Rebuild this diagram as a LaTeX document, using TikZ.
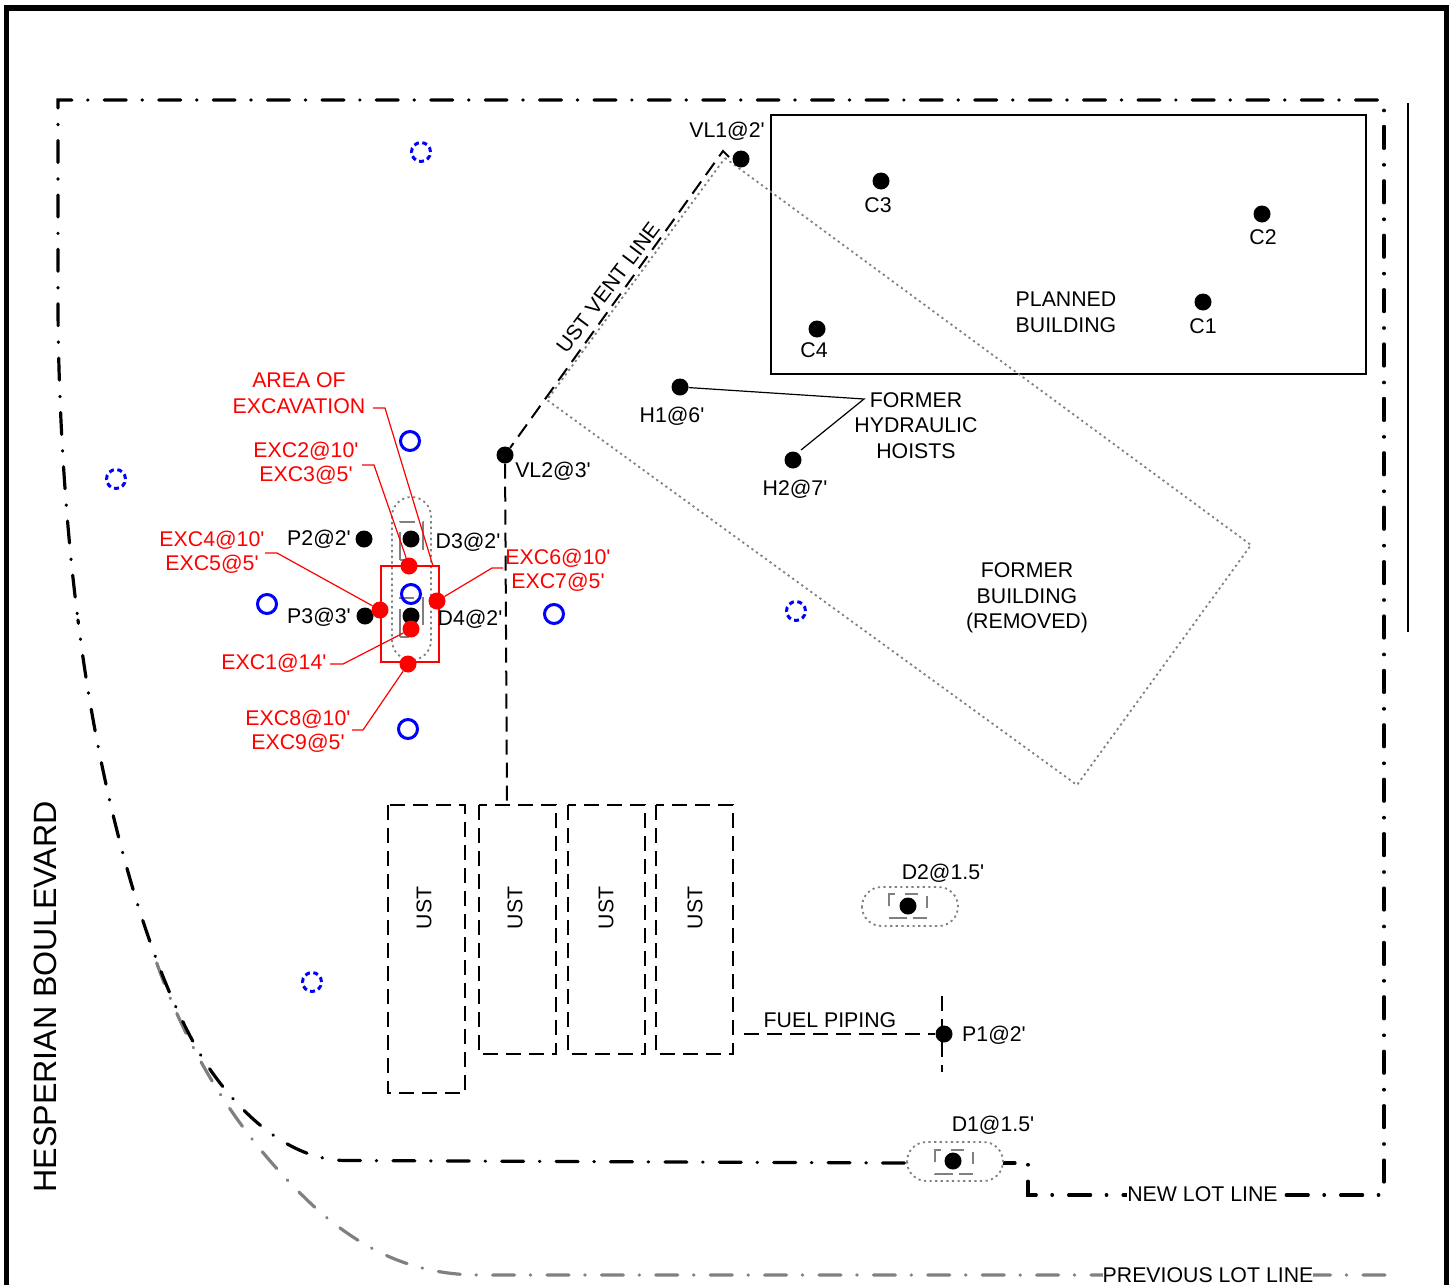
\documentclass[tikz,border=0pt]{standalone}
\usepackage{fontspec}
\setmainfont{Liberation Sans}
\definecolor{nicered}{RGB}{255, 0, 0}
\definecolor{niceblue}{RGB}{0, 0, 255}
\definecolor{lgray}{RGB}{128, 128, 128}
\newcommand{\ft}{\textquotesingle}
\tikzset{
	lab/.style = {inner sep = 0pt, align = center, font = \fontsize{21.3}{25.5}\selectfont},
	redlab/.style = {lab, text = nicered},
	exclab/.style = {redlab, font = \fontsize{21.3}{24}\selectfont},
	bore/.style = {circle, fill = black, inner sep = 0pt, minimum size = 17pt},
	redbore/.style = {circle, fill = nicered, inner sep = 0pt, minimum size = 17pt},
	well/.style = {circle, draw = niceblue, line width = 3pt, inner sep = 0pt, minimum size = 19pt},
	oldwell/.style = {well, dash pattern = on 5pt off 3.5pt},
	lot/.style = {line width = 3.2pt, line cap = round, dash pattern = on 22pt off 16.2pt on 0.5pt off 15.7pt},
	prevlot/.style = {lot, draw = lgray},
	pipe/.style = {line width = 2pt, dash pattern = on 15pt off 8pt},
	dots/.style = {draw = lgray, line width = 1.8pt, dash pattern = on 2.2pt off 3.4pt},
	tankflat/.style = {draw = lgray, line width = 1.6pt, dash pattern = on 18pt off 10pt on 13pt off 11pt on 12pt off 10pt on 14pt off 6pt on 18pt off 12pt},
	tankhigh/.style = {draw = lgray, line width = 1.6pt, dash pattern = on 28pt off 10pt on 15pt off 8pt on 28pt off 26pt on 7pt off 0pt},
	leader/.style = {draw = nicered, line width = 1.2pt}
}
\begin{document}
\begin{tikzpicture}[x = 1pt, y = -1pt]
	\useasboundingbox (0,0) rectangle (1455,1285);
	\draw[line width = 5.4pt] (6.5,1285) -- (6.5,8) -- (1446.5,8) -- (1446.5,1285);

	% lot lines
	\draw[prevlot] (1385,1275) -- (480,1275) .. controls (420,1275) and (370,1255) .. (320,1212) .. controls (235,1135) and (185,1045) .. (155,958);
	\draw[lot] (1377.5,100) -- (58,100) -- (58,300) .. controls (58,400) and (65,520) .. (78,620);
	\draw[lot] (904.5,1163) -- (345,1160.5) .. controls (290,1160) and (240,1115) .. (205,1062) .. controls (150,975) and (100,800) .. (78,620);
	\draw[lot, dash phase = 38pt] (1384,110) -- (1384,1184);
	\draw[lot, dash phase = 38pt] (1379,1195) -- (1028,1195) -- (1028,1163);
	\draw[lot] (1015,1163) -- (1000,1163);
	\draw[line width = 1.5pt] (1408,103) -- (1408,632);

	% buildings
	\draw[line width = 1.6pt] (771,115) rectangle (1366,374);
	\draw[dots] (725,158) -- (1251,545) -- (1077,785) -- (547,400) -- cycle;

	% tanks and piping
	\draw[pipe] (388,805) rectangle (465,1093);
	\draw[pipe] (479,805) rectangle (556,1054);
	\draw[pipe] (568,805) rectangle (645,1054);
	\draw[pipe] (656,805) rectangle (733,1054);
	\node (usta) at (424,908) [lab, rotate = 90] {UST};
	\node (ustb) at (515,908) [lab, rotate = 90] {UST};
	\node (ustc) at (606,908) [lab, rotate = 90] {UST};
	\node (ustd) at (695,908) [lab, rotate = 90] {UST};

	% dispensers
	\draw[dots, rounded corners = 19.5pt] (392,497) rectangle (431,660);
	\draw[dots, rounded corners = 19.5pt] (862,887) rectangle (958,926);
	\draw[dots, fill = white, rounded corners = 19.5pt] (907,1142) rectangle (1003,1181);
	\draw[tankhigh] (400,560) -- (400,522) -- (423,522) -- (423,560) -- cycle;
	\draw[tankhigh] (400,637) -- (400,598) -- (423,598) -- (423,637) -- cycle;
	\draw[tankflat] (889,906) -- (889,894) -- (927,894) -- (927,918) -- (889,918) -- cycle;
	\draw[tankflat] (935,1162) -- (935,1150) -- (973,1150) -- (973,1174) -- (935,1174) -- cycle;

	% borings
	\node (vla) at (741,159) [bore] {};
	\node (vlb) at (505,455) [bore] {};
	\node (ca) at (1203,302) [bore] {};
	\node (cb) at (1262,214) [bore] {};
	\node (cc) at (881,181) [bore] {};
	\node (cd) at (817,329) [bore] {};
	\node (ha) at (680,387) [bore] {};
	\node (hb) at (793,460) [bore] {};
	\node (pa) at (944,1034) [bore] {};
	\node (pb) at (364,539) [bore] {};
	\node (pc) at (365,616) [bore] {};
	\node (da) at (953,1161) [bore] {};
	\node (db) at (908,906) [bore] {};
	\node (dc) at (411,539) [bore] {};
	\node (dd) at (411,616) [bore] {};

	% vent line and fuel piping
	\coordinate (venttop) at (723,151);
	\coordinate (ventend) at (729,157);
	\coordinate (ventlow) at (507,805);
	\coordinate (fuelend) at (744,1034);
	\coordinate (crossa) at (942,996);
	\coordinate (crossb) at (942,1072);
	\draw[pipe] (ventend) -- (venttop) -- (vlb);
	\draw[pipe] (vlb) -- (ventlow);
	\draw[pipe] (fuelend) -- (pa);
	\draw[pipe] (crossa) -- (crossb);

	% wells
	\node (wa) at (410,441) [well] {};
	\node (wb) at (267,604) [well] {};
	\node (wc) at (411,594) [well] {};
	\node (wd) at (554,614) [well] {};
	\node (we) at (408,729) [well] {};
	\node (oa) at (421,152) [oldwell] {};
	\node (ob) at (116,479) [oldwell] {};
	\node (oc) at (796,611) [oldwell] {};
	\node (od) at (312,982) [oldwell] {};

	% excavation
	\draw[draw = nicered, line width = 2pt] (381,566) rectangle (439,662);
	\node (exa) at (411,629) [redbore] {};
	\node (exb) at (409,566) [redbore] {};
	\node (exc) at (380,610) [redbore] {};
	\node (exd) at (437,601) [redbore] {};
	\node (exe) at (408,664) [redbore] {};
	\coordinate (areaa) at (373,408);
	\coordinate (areab) at (385,408);
	\coordinate (areac) at (433,566);
	\coordinate (leada) at (330,664);
	\coordinate (leadb) at (343,664);
	\coordinate (leadc) at (362,465);
	\coordinate (leadd) at (374,465);
	\coordinate (leade) at (265,553);
	\coordinate (leadf) at (277,553);
	\coordinate (leadg) at (503,568);
	\coordinate (leadh) at (492,568);
	\coordinate (leadi) at (352,730);
	\coordinate (leadj) at (363,730);
	\draw[leader] (areaa) -- (areab) -- (areac);
	\draw[leader] (leada) -- (leadb) -- (exa);
	\draw[leader] (leadc) -- (leadd) -- (exb);
	\draw[leader] (leade) -- (leadf) -- (exc);
	\draw[leader] (leadg) -- (leadh) -- (exd);
	\draw[leader] (leadi) -- (leadj) -- (exe);

	% hoist leaders
	\coordinate (hoist) at (864,399);
	\coordinate (hoistb) at (801,450);
	\draw[line width = 1.2pt] (ha) -- (hoist) -- (hoistb);

	% labels
	\node (vlatxt) at (727,131.5) [lab] {VL1@2\ft};
	\node (vlbtxt) at (553,471.5) [lab] {VL2@3\ft};
	\node (catxt) at (1203,326) [lab] {C1};
	\node (cbtxt) at (1263,237) [lab] {C2};
	\node (cctxt) at (878,205) [lab] {C3};
	\node (cdtxt) at (814,350) [lab] {C4};
	\node (hatxt) at (672,416) [lab] {H1@6\ft};
	\node (hbtxt) at (795,489) [lab] {H2@7\ft};
	\node (patxt) at (994,1035) [lab] {P1@2\ft};
	\node (pbtxt) at (319,539) [lab] {P2@2\ft};
	\node (pctxt) at (319,617) [lab] {P3@3\ft};
	\node (datxt) at (993,1125) [lab] {D1@1.5\ft};
	\node (dbtxt) at (943,873) [lab] {D2@1.5\ft};
	\node (dctxt) at (468,542) [lab] {D3@2\ft};
	\node (ddtxt) at (470,619) [lab] {D4@2\ft};
	\node (planned) at (1066,312.5) [lab] {PLANNED\\BUILDING};
	\node (former) at (1027,598) [lab] {FORMER\\BUILDING\\(REMOVED)};
	\node (hoists) at (916,425.5) [lab] {FORMER\\HYDRAULIC\\HOISTS};
	\node (vent) at (608,287.5) [lab, rotate = 53, font = \fontsize{21}{25}\selectfont] {UST VENT LINE};
	\node (fuel) at (830,1020) [lab] {FUEL PIPING};
	\node (road) at (45,997) [lab, rotate = 90, font = \fontsize{32.2}{36}\selectfont] {HESPERIAN BOULEVARD};
	\node (newlot) at (1202.5,1194) [lab, fill = white] {NEW LOT LINE};
	\node (oldlot) at (1208,1275) [lab, fill = white] {PREVIOUS LOT LINE};
	\node (area) at (299,393) [redlab] {AREA OF\\EXCAVATION};
	\node (exatxt) at (274,663) [redlab] {EXC1@14\ft};
	\node (exbtxt) at (306,463) [exclab] {EXC2@10\ft\\EXC3@5\ft};
	\node (exctxt) at (212,552) [exclab] {EXC4@10\ft\\EXC5@5\ft};
	\node (exdtxt) at (558,570) [exclab] {EXC6@10\ft\\EXC7@5\ft};
	\node (exetxt) at (298,731) [exclab] {EXC8@10\ft\\EXC9@5\ft};
\end{tikzpicture}
\end{document}
